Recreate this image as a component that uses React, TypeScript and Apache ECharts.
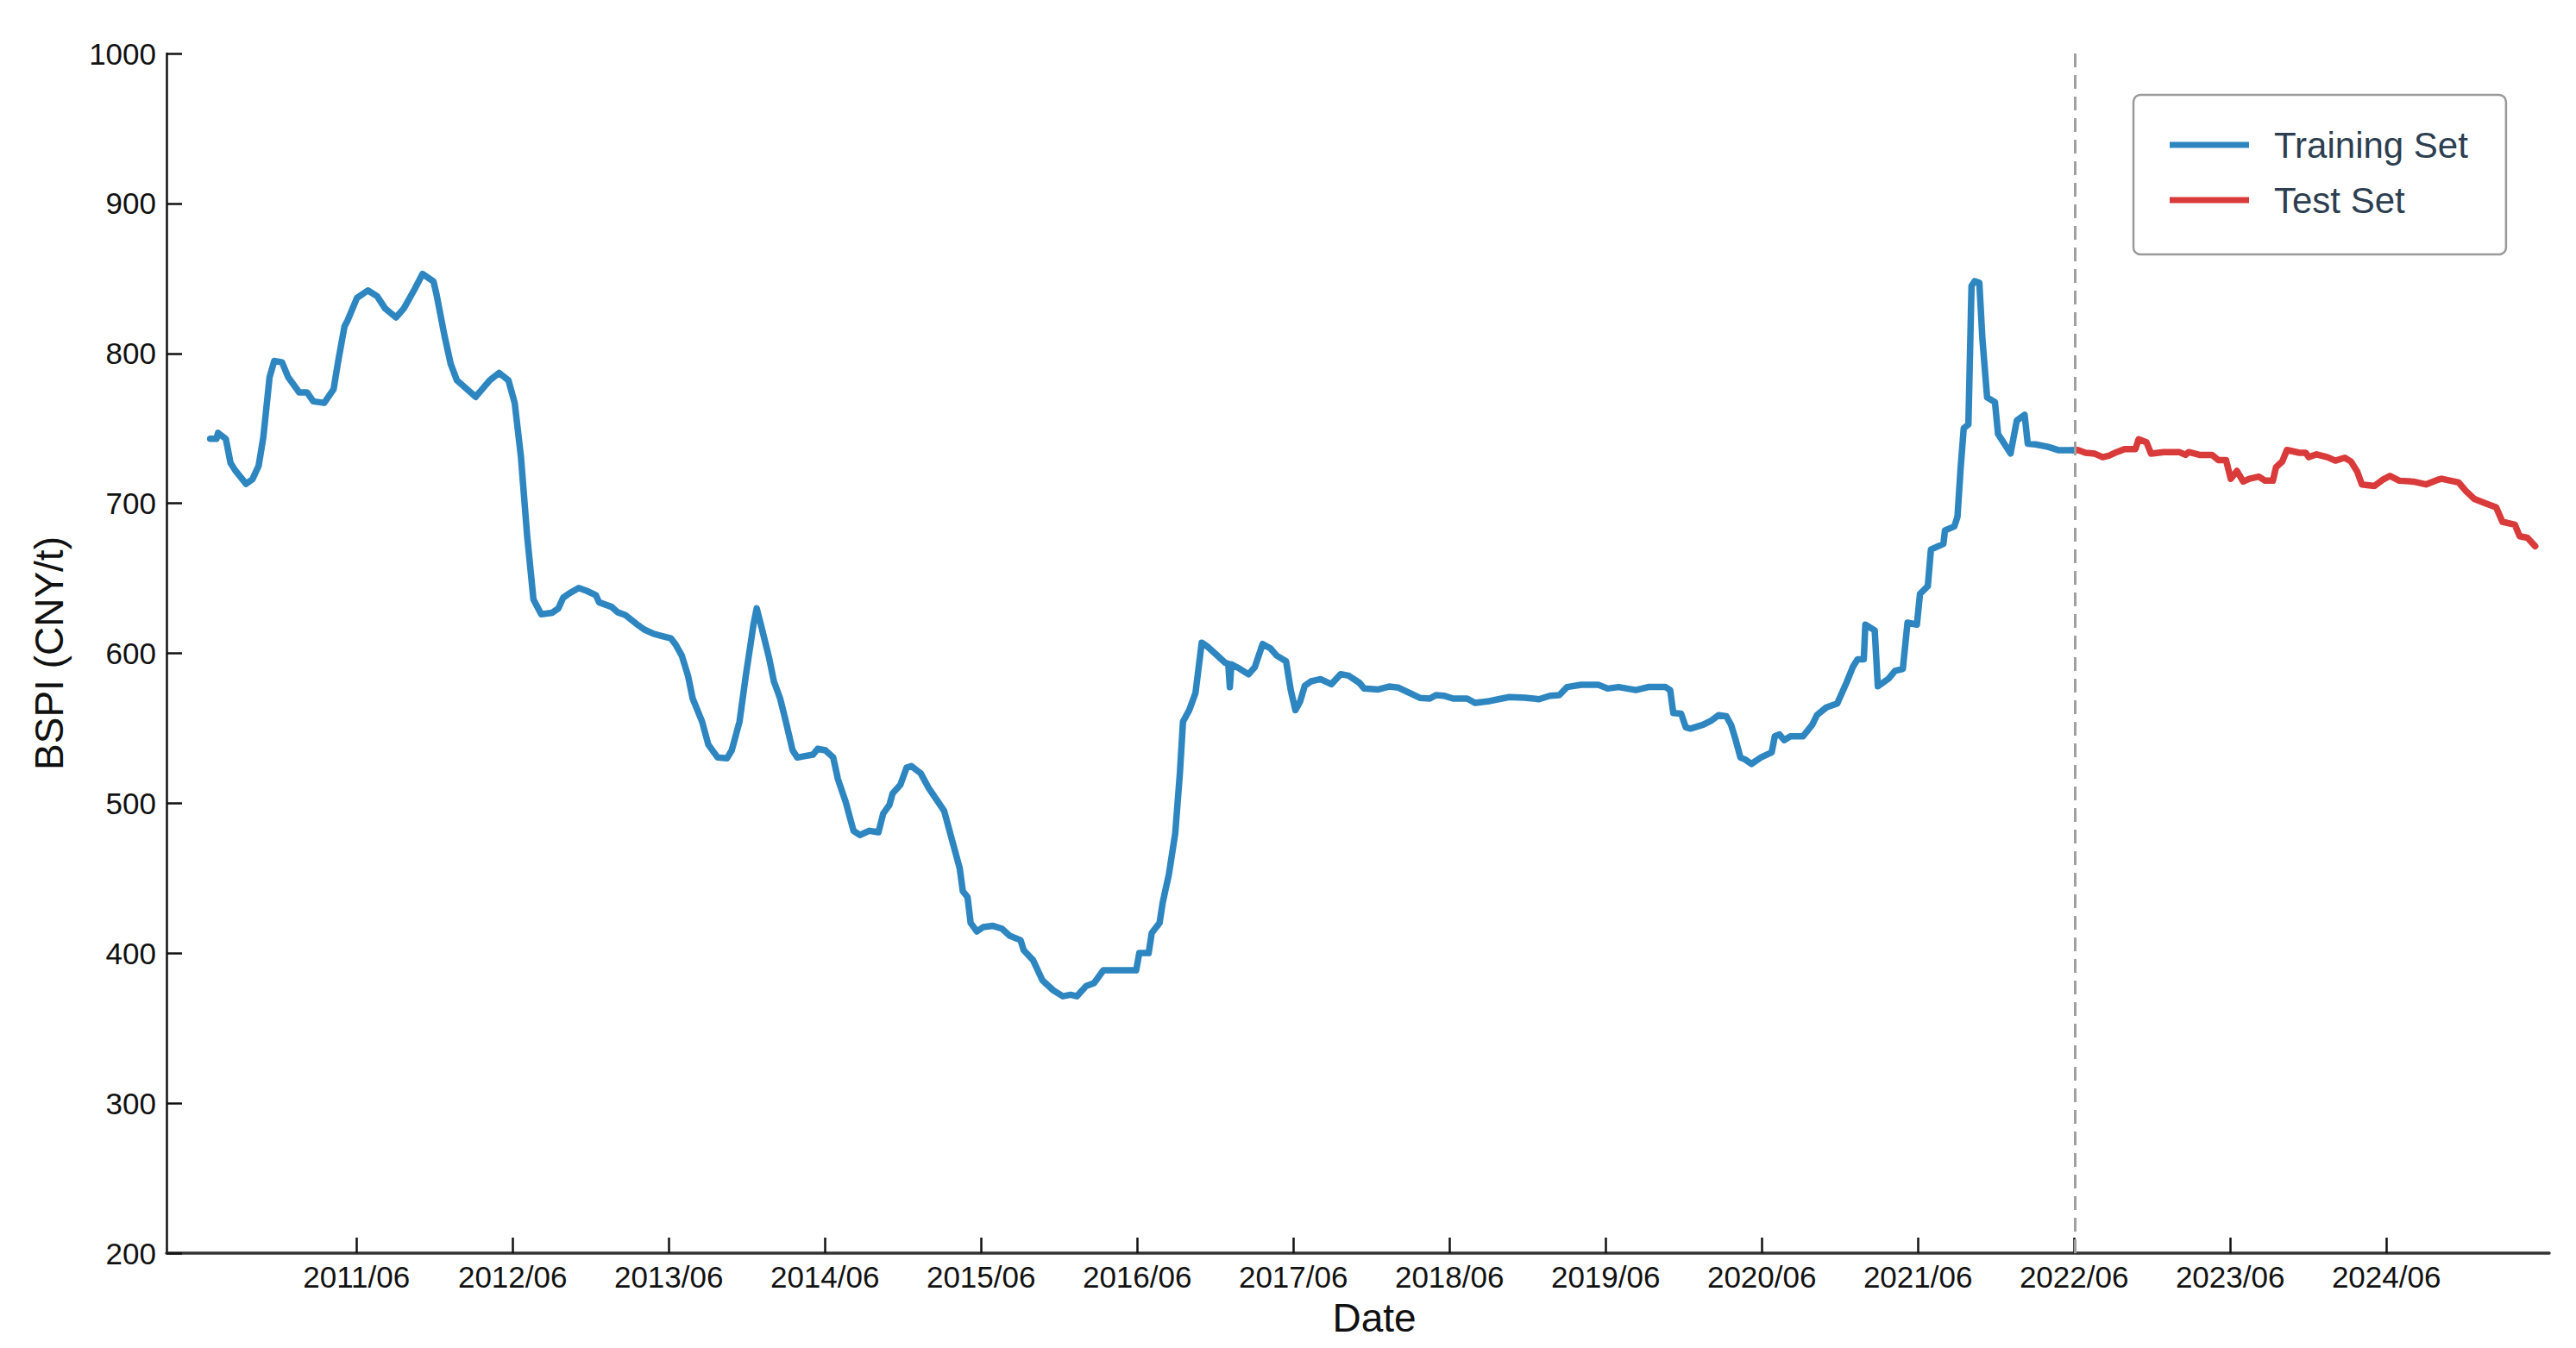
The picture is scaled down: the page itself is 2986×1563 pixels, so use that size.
import React, { useEffect, useRef } from "react";
import * as echarts from "echarts";

// Time in decimal years, BSPI values (CNY/t)
const trainT = [
  2010.48, 2010.52, 2010.53, 2010.58, 2010.61, 2010.64, 2010.71, 2010.75, 2010.79, 2010.82,
  2010.86, 2010.89, 2010.94, 2010.98, 2011.05, 2011.10, 2011.14, 2011.21, 2011.27, 2011.30,
  2011.34, 2011.36, 2011.42, 2011.49, 2011.55, 2011.60, 2011.67, 2011.72, 2011.79, 2011.84,
  2011.91, 2011.93, 2011.98, 2012.02, 2012.06, 2012.18, 2012.27, 2012.33, 2012.39, 2012.43,
  2012.47, 2012.51, 2012.55, 2012.60, 2012.67, 2012.71, 2012.74, 2012.78, 2012.84, 2012.89,
  2012.95, 2012.97, 2013.05, 2013.09, 2013.14, 2013.21, 2013.26, 2013.32, 2013.37, 2013.43,
  2013.46, 2013.50, 2013.54, 2013.57, 2013.63, 2013.67, 2013.73, 2013.79, 2013.82, 2013.87,
  2013.91, 2013.96, 2013.98, 2014.01, 2014.06, 2014.09, 2014.13, 2014.16, 2014.21, 2014.24,
  2014.29, 2014.34, 2014.37, 2014.42, 2014.47, 2014.50, 2014.55, 2014.60, 2014.64, 2014.70,
  2014.76, 2014.79, 2014.83, 2014.85, 2014.90, 2014.94, 2014.97, 2015.03, 2015.08, 2015.18,
  2015.23, 2015.28, 2015.30, 2015.33, 2015.35, 2015.39, 2015.43, 2015.49, 2015.55, 2015.60,
  2015.67, 2015.69, 2015.75, 2015.81, 2015.88, 2015.94, 2015.99, 2016.03, 2016.09, 2016.14,
  2016.20, 2016.28, 2016.41, 2016.43, 2016.49, 2016.51, 2016.56, 2016.58, 2016.62, 2016.66,
  2016.69, 2016.71, 2016.75, 2016.79, 2016.83, 2016.87, 2016.93, 2016.98, 2017.00, 2017.01,
  2017.02, 2017.07, 2017.13, 2017.17, 2017.22, 2017.27, 2017.31, 2017.37, 2017.40, 2017.43,
  2017.46, 2017.49, 2017.53, 2017.59, 2017.66, 2017.72, 2017.77, 2017.84, 2017.87, 2017.96,
  2018.03, 2018.09, 2018.16, 2018.23, 2018.29, 2018.33, 2018.38, 2018.44, 2018.53, 2018.58,
  2018.66, 2018.73, 2018.80, 2018.90, 2018.99, 2019.06, 2019.12, 2019.17, 2019.26, 2019.37,
  2019.43, 2019.50, 2019.61, 2019.69, 2019.80, 2019.83, 2019.85, 2019.90, 2019.93, 2019.96,
  2020.04, 2020.09, 2020.14, 2020.19, 2020.22, 2020.25, 2020.28, 2020.31, 2020.35, 2020.41,
  2020.48, 2020.50, 2020.53, 2020.56, 2020.60, 2020.68, 2020.74, 2020.77, 2020.83, 2020.90,
  2020.96, 2021.00, 2021.03, 2021.07, 2021.08, 2021.14, 2021.16, 2021.23, 2021.27, 2021.32,
  2021.35, 2021.41, 2021.43, 2021.48, 2021.50, 2021.58, 2021.59, 2021.65, 2021.67, 2021.69,
  2021.71, 2021.74, 2021.76, 2021.78, 2021.81, 2021.83, 2021.86, 2021.91, 2021.93, 2021.97,
  2022.01, 2022.05, 2022.10, 2022.12, 2022.17, 2022.25, 2022.32, 2022.41,
];
const trainV = [
  743, 743, 747, 743, 727, 722, 713, 716, 725, 744,
  784, 795, 794, 784, 774, 774, 768, 767, 776, 795,
  818, 822, 837, 842, 838, 830, 824, 830, 843, 853,
  848, 839, 812, 793, 782, 771, 782, 787, 782, 767,
  731, 678, 636, 626, 627, 630, 637, 640, 643.6, 641.7,
  638.8, 634, 631, 627.3, 625.4, 619.6, 615.8, 613, 611.6, 610,
  606, 598.5, 585, 569.8, 554.5, 539.1, 530.5, 530, 535.3, 554.5,
  585, 619.6, 630, 617.7, 596.6, 581.3, 569.8, 557.3, 535.3, 530.5,
  531.5, 532.4, 536.3, 535.3, 530.5, 516.1, 500.8, 481.6, 478.8, 481.6,
  480.7, 493.1, 498.9, 506.5, 512.3, 523.8, 524.8, 520, 510.4, 495,
  475.8, 456.7, 441.3, 437.5, 420.2, 414.5, 417.4, 418.3, 416.4, 411.6,
  408.7, 402, 395.3, 381.9, 375.2, 371.3, 372.3, 371.3, 378.1, 380,
  388.6, 388.6, 388.6, 400.1, 400.1, 413.5, 420.2, 433.7, 452.8, 479.7,
  519.9, 554.4, 562.1, 573.6, 607.1, 604.2, 598.5, 593.7, 593, 577.4,
  592.7, 589.9, 586, 590.8, 606.2, 603.3, 598.5, 594.7, 575.5, 562.1,
  567.8, 578.4, 581.3, 582.8, 579.4, 586.1, 585.1, 580.3, 576.5, 575.9,
  577.8, 577.1, 573.6, 570.2, 569.8, 572.1, 571.7, 569.8, 569.8, 566.9,
  567.9, 569.4, 570.8, 570.4, 569.4, 571.7, 572.1, 577.5, 579, 579,
  576.5, 577.5, 575.5, 577.5, 577.5, 575.5, 560.2, 559.8, 550.6, 549.8,
  552.3, 554.9, 558.8, 558, 552.3, 542.1, 530.5, 529.2, 526.2, 530.5,
  533.9, 544.6, 545.9, 542.1, 544.6, 544.6, 552.3, 558.8, 563.9, 566.5,
  580.6, 590.9, 596, 596, 619.1, 615.3, 578, 583.2, 588.3, 589.6,
  620.4, 619.1, 639.6, 644.8, 669.2, 673, 682, 684.6, 691, 723.1,
  750, 752.6, 845, 848.1, 847.1, 809.1, 770.6, 767.5, 746.2, 739.8,
  733.3, 755.2, 759, 739.8, 739.3, 737.7, 735.4, 735.4,
];

const testT = [
  2022.41, 2022.44, 2022.49, 2022.55, 2022.60, 2022.64, 2022.69, 2022.74, 2022.81, 2022.83,
  2022.88, 2022.91, 2022.99, 2023.09, 2023.13, 2023.15, 2023.22, 2023.30, 2023.34, 2023.39,
  2023.42, 2023.46, 2023.50, 2023.54, 2023.60, 2023.64, 2023.69, 2023.71, 2023.75, 2023.78,
  2023.86, 2023.90, 2023.92, 2023.97, 2024.04, 2024.09, 2024.15, 2024.19, 2024.23, 2024.26,
  2024.34, 2024.39, 2024.44, 2024.50, 2024.59, 2024.67, 2024.74, 2024.77, 2024.88, 2024.93,
  2024.98, 2025.05, 2025.12, 2025.16, 2025.24, 2025.27, 2025.32, 2025.37,
];
const testV = [
  735.4, 735.6, 733.7, 733.1, 730.8, 731.8, 734.2, 736.2, 736.2, 742.7,
  740.8, 733.1, 734.2, 734.2, 732.3, 734.2, 732.3, 732.3, 728.9, 728.9,
  716.4, 721.6, 714.5, 716.4, 717.8, 715.1, 715.1, 724.1, 727.9, 735.6,
  733.7, 733.7, 730.8, 732.7, 730.8, 728.5, 730.4, 727.9, 721.2, 712.6,
  711.6, 715.5, 718.3, 715.1, 714.5, 712.6, 715.5, 716.4, 713.9, 707.8,
  703, 700.1, 697.3, 687.7, 685.8, 678.1, 677.1, 671.4,
];

const tickYears = [2011, 2012, 2013, 2014, 2015, 2016, 2017, 2018, 2019, 2020, 2021, 2022, 2023, 2024];
const splitYear = 2022;
const seriesNames = ["Training Set", "Test Set"];

const FONT = "'Liberation Sans', Arial, Helvetica, sans-serif";
const JUNE = 5 / 12;

export default function App() {
  const ref = useRef<HTMLDivElement>(null);

  useEffect(() => {
    if (!ref.current) return;
    const chart = echarts.init(ref.current, undefined, { renderer: "svg" });
    const tickVals = tickYears.map((y) => y + JUNE);
    const train = trainT.map((t, i) => [t, trainV[i]]);
    const test = testT.map((t, i) => [t, testV[i]]);

    chart.setOption({
      animation: false,
      backgroundColor: "#ffffff",
      grid: { left: 193, right: 31, top: 62, bottom: 110, containLabel: false },
      legend: {
        data: seriesNames,
        orient: "vertical",
        left: 2473,
        top: 110,
        icon: "rect",
        itemWidth: 92,
        itemHeight: 7,
        itemGap: 22,
        padding: [37, 44, 42, 42],
        backgroundColor: "#ffffff",
        borderColor: "#9a9a9a",
        borderWidth: 2.5,
        borderRadius: 8,
        textStyle: { fontSize: 42, color: "#2c3e50", fontFamily: FONT, padding: [0, 0, 0, 24] },
      },
      xAxis: {
        type: "value",
        min: 2010.2,
        max: 2025.46,
        name: "Date",
        nameLocation: "middle",
        nameGap: 52,
        nameTextStyle: { fontSize: 46, color: "#111", fontFamily: FONT, padding: [0, 0, 0, 38] },
        axisLine: { show: true, onZero: false, lineStyle: { color: "#333", width: 3.5 } },
        axisTick: {
          show: true,
          inside: true,
          length: 18,
          customValues: tickVals,
          lineStyle: { color: "#111", width: 2.5 },
        },
        axisLabel: {
          show: true,
          customValues: tickVals,
          fontSize: 35,
          color: "#111",
          fontFamily: FONT,
          margin: 10,
          formatter: (v: number) => `${Math.round(v - JUNE)}/06`,
        },
        splitLine: { show: false },
      },
      yAxis: {
        type: "value",
        min: 200,
        max: 1000,
        interval: 100,
        name: "BSPI (CNY/t)",
        nameLocation: "middle",
        nameGap: 113,
        nameTextStyle: { fontSize: 46, color: "#111", fontFamily: FONT },
        axisLine: { show: true, onZero: false, lineStyle: { color: "#111", width: 2.5 } },
        axisTick: { show: true, inside: true, length: 18, lineStyle: { color: "#111", width: 2.5 } },
        axisLabel: {
          fontSize: 35,
          color: "#111",
          fontFamily: FONT,
          margin: 12,
          formatter: (v: number) => String(v),
        },
        splitLine: { show: false },
      },
      series: [
        {
          name: seriesNames[0],
          type: "line",
          data: train,
          showSymbol: false,
          symbol: "none",
          color: "#2E86C1",
          lineStyle: { width: 7.5, color: "#2E86C1", join: "round", cap: "round" },
          markLine: {
            silent: true,
            symbol: ["none", "none"],
            label: { show: false },
            lineStyle: { type: [16, 9], color: "#a0a0a0", width: 3 },
            data: [{ xAxis: splitYear + JUNE }],
          },
          z: 3,
        },
        {
          name: seriesNames[1],
          type: "line",
          data: test,
          showSymbol: false,
          symbol: "none",
          color: "#D93A3A",
          lineStyle: { width: 7.5, color: "#D93A3A", join: "round", cap: "round" },
          z: 2,
        },
      ],
    });

    return () => chart.dispose();
  }, []);

  return (
    <div
      ref={ref}
      style={{ position: "fixed", left: 0, top: 0, width: 2986, height: 1563, background: "#fff" }}
    />
  );
}
